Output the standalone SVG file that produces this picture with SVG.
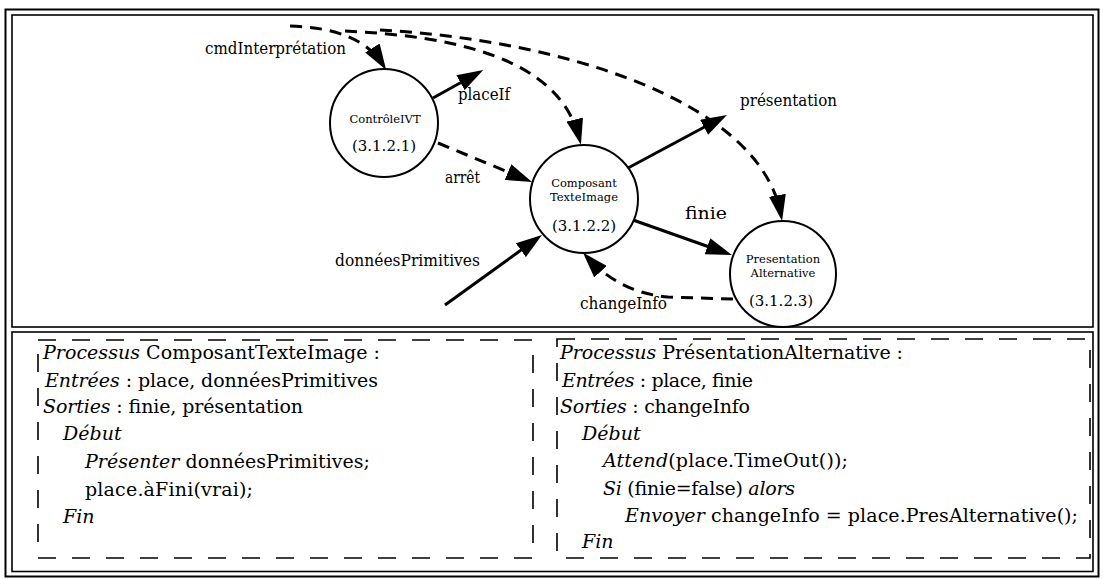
<svg xmlns="http://www.w3.org/2000/svg" width="1104" height="579" viewBox="0 0 1104 579">
<style>
  .frame { fill: none; stroke: #000; }
  .dbox { fill: none; stroke: #000; stroke-width: 1.6; stroke-dasharray: 18 16; }
  .node { fill: #fff; stroke: #000; stroke-width: 2; }
  .solid { fill: none; stroke: #000; stroke-width: 3; }
  .dash { fill: none; stroke: #000; stroke-width: 3; stroke-dasharray: 12 8; }
  .lbl { font-family: "DejaVu Serif", "Liberation Serif", serif; font-size: 16.5px; fill: #000; }
  .small { font-family: "DejaVu Serif", "Liberation Serif", serif; font-size: 11.5px; fill: #000; text-anchor: middle; }
  .num { font-family: "DejaVu Serif", "Liberation Serif", serif; font-size: 15px; fill: #000; text-anchor: middle; }
  .code { font-family: "DejaVu Serif", "Liberation Serif", serif; font-size: 19px; fill: #000; }
  .i { font-style: italic; }
</style>
<defs>
  <marker id="ah" viewBox="0 0 26 17" refX="20" refY="8.5" markerWidth="26" markerHeight="17" markerUnits="userSpaceOnUse" orient="auto">
    <path d="M0,0 L26,8.5 L0,17 z" fill="#000"/>
  </marker>
</defs>
<rect width="1104" height="579" fill="#fff"/>

<g id="frames">
  <rect class="frame" x="5.5" y="9.5" width="1093" height="567" stroke-width="2"/>
  <rect class="frame" x="12" y="15" width="1081" height="312" stroke-width="1.6"/>
  <rect class="frame" x="12" y="332" width="1081" height="239.5" stroke-width="1.6"/>
</g>

<g id="connectors">
  <path class="dash" d="M290,26 Q360,28 383,65" marker-end="url(#ah)"/>
  <path class="dash" d="M345,31 C450,36 559,56 579.5,139" marker-end="url(#ah)"/>
  <path class="dash" d="M380,30 C560,40 760,100 781,215" marker-end="url(#ah)"/>
  <path class="solid" d="M433,98 L478,73" marker-end="url(#ah)"/>
  <path class="dash" d="M438,143 L526.5,179.7" marker-end="url(#ah)"/>
  <path class="solid" d="M628,168 L721.7,117.8" marker-end="url(#ah)"/>
  <path class="solid" d="M633,220 L726.3,253" marker-end="url(#ah)"/>
  <path class="solid" d="M445,305 L537.1,238.5" marker-end="url(#ah)"/>
  <path class="dash" d="M733,299 L668,297 Q620,293 587,257" marker-end="url(#ah)"/>
</g>

<g id="connector-labels">
  <text class="lbl" x="205" y="54" textLength="141" lengthAdjust="spacingAndGlyphs">cmdInterprétation</text>
  <text class="lbl" x="458" y="100" textLength="52" lengthAdjust="spacingAndGlyphs">placeIf</text>
  <text class="lbl" x="740" y="106" textLength="97" lengthAdjust="spacingAndGlyphs">présentation</text>
  <text class="lbl" x="445" y="183" textLength="35" lengthAdjust="spacingAndGlyphs">arrêt</text>
  <text class="lbl" x="685" y="219" textLength="42" lengthAdjust="spacingAndGlyphs">finie</text>
  <text class="lbl" x="335" y="266" textLength="145" lengthAdjust="spacingAndGlyphs">donnéesPrimitives</text>
  <text class="lbl" x="580" y="309" textLength="87" lengthAdjust="spacingAndGlyphs">changeInfo</text>
</g>

<g id="node-controleIVT">
  <circle class="node" cx="384" cy="123" r="54"/>
  <text class="small" x="385" y="123">ContrôleIVT</text>
  <text class="num" x="384" y="151">(3.1.2.1)</text>
</g>

<g id="node-composantTexteImage">
  <circle class="node" cx="584" cy="199" r="54"/>
  <text class="small" x="584" y="187">Composant</text>
  <text class="small" x="584" y="201">TexteImage</text>
  <text class="num" x="584" y="231">(3.1.2.2)</text>
</g>

<g id="node-presentationAlternative">
  <circle class="node" cx="783" cy="274" r="53"/>
  <text class="small" x="783" y="263">Presentation</text>
  <text class="small" x="783" y="277">Alternative</text>
  <text class="num" x="781" y="306">(3.1.2.3)</text>
</g>

<g id="process-composantTexteImage">
  <rect class="dbox" x="38" y="340" width="495" height="218"/>
  <text class="code" x="43" y="359" textLength="337"><tspan class="i">Processus</tspan> ComposantTexteImage :</text>
  <text class="code" x="45" y="387" textLength="333"><tspan class="i">Entrées</tspan> : place, donnéesPrimitives</text>
  <text class="code" x="43" y="413" textLength="260"><tspan class="i">Sorties</tspan> : finie, présentation</text>
  <text class="code i" x="63" y="440">Début</text>
  <text class="code" x="85" y="468" textLength="285"><tspan class="i">Présenter</tspan> donnéesPrimitives;</text>
  <text class="code" x="85" y="496" textLength="168">place.àFini(vrai);</text>
  <text class="code i" x="63" y="523">Fin</text>
</g>

<g id="process-presentationAlternative">
  <rect class="dbox" x="557" y="339" width="533" height="219"/>
  <text class="code" x="560" y="359" textLength="343"><tspan class="i">Processus</tspan> PrésentationAlternative :</text>
  <text class="code" x="562" y="387" textLength="191"><tspan class="i">Entrées</tspan> : place, finie</text>
  <text class="code" x="560" y="413" textLength="190"><tspan class="i">Sorties</tspan> : changeInfo</text>
  <text class="code i" x="582" y="440">Début</text>
  <text class="code" x="603" y="467" textLength="245"><tspan class="i">Attend</tspan>(place.TimeOut());</text>
  <text class="code" x="603" y="495" textLength="192"><tspan class="i">Si</tspan> (finie=false) <tspan class="i">alors</tspan></text>
  <text class="code" x="625" y="522" textLength="453"><tspan class="i">Envoyer</tspan> changeInfo = place.PresAlternative();</text>
  <text class="code i" x="582" y="548">Fin</text>
</g>
</svg>
